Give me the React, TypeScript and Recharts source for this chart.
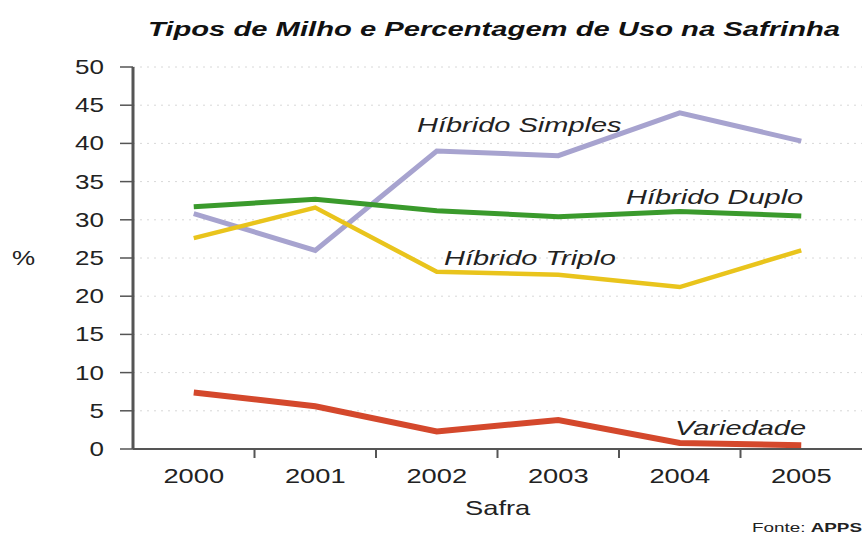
import React from 'react'
import { LineChart, Line, XAxis, YAxis, CartesianGrid } from 'recharts'

const years = [2000, 2001, 2002, 2003, 2004, 2005]
const hibridoSimples = [30.8, 26.0, 39.0, 38.4, 44.0, 40.3]
const hibridoDuplo = [31.7, 32.7, 31.2, 30.4, 31.1, 30.5]
const hibridoTriplo = [27.6, 31.6, 23.2, 22.8, 21.2, 26.0]
const variedade = [7.4, 5.6, 2.3, 3.8, 0.8, 0.5]
const yTicks = [0, 5, 10, 15, 20, 25, 30, 35, 40, 45, 50]
const bandEdges = [2000.5, 2001.5, 2002.5, 2003.5, 2004.5]

const data = years.map((year, i) => ({
  year,
  simples: hibridoSimples[i],
  duplo: hibridoDuplo[i],
  triplo: hibridoTriplo[i],
  variedade: variedade[i],
}))

const FONT = '"Liberation Sans", Arial, sans-serif'
const STRETCH = 1.3

function XTick({ x, y, payload }: any) {
  const v = payload.value
  if (!Number.isInteger(v)) {
    // tick marks sit between the years
    return <line x1={x} x2={x} y1={y - 16} y2={y - 7} stroke="#555" strokeWidth={2} />
  }
  return (
    <g transform={`translate(${x},${y}) scale(${STRETCH},1)`}>
      <text x={0} y={0} dy={18} textAnchor="middle" fontSize={21} fill="#222" fontFamily={FONT}>{v}</text>
    </g>
  )
}

function YTick({ x, y, payload }: any) {
  return (
    <g transform={`translate(${x},${y}) scale(${STRETCH},1)`}>
      <text x={0} y={0} dy={7} textAnchor="end" fontSize={20} fill="#222" fontFamily={FONT}>{payload.value}</text>
    </g>
  )
}

const labelStyle: React.CSSProperties = {
  position: 'absolute',
  whiteSpace: 'nowrap',
  fontFamily: FONT,
  fontStyle: 'italic',
  fontSize: 21,
  color: '#222',
  transformOrigin: 'left center',
  transform: 'scaleX(1.38)',
  lineHeight: '24px',
}

export default function App() {
  return (
    <div style={{ position: 'absolute', left: 0, top: 0, width: 867, height: 539, background: '#fff', overflow: 'hidden' }}>
      <div style={{ ...labelStyle, left: 148, top: 17, fontWeight: 'bold', fontSize: 21, color: '#111', transform: 'scaleX(1.39)' }}>
        Tipos de Milho e Percentagem de Uso na Safrinha
      </div>
      <LineChart width={867} height={539} data={data} margin={{ top: 67, right: 5, bottom: 50, left: 0 }}>
        <CartesianGrid vertical={false} stroke="#d8d8d8" strokeDasharray="2 5" />
        <XAxis
          dataKey="year"
          type="number"
          domain={[1999.5, 2005.5]}
          ticks={[...years, ...bandEdges]}
          interval={0}
          tickLine={false}
          tickSize={10}
          tickMargin={6}
          tick={<XTick />}
          axisLine={{ stroke: '#555', strokeWidth: 2 }}
          height={40}
        />
        <XAxis xAxisId="top" orientation="top" dataKey="year" type="number" domain={[1999.5, 2005.5]}
          tick={false} tickLine={false} height={0} axisLine={{ stroke: '#555', strokeWidth: 1.5 }} />
        <YAxis
          domain={[0, 50]}
          ticks={yTicks}
          interval={0}
          width={133}
          tickSize={13}
          tickMargin={16}
          tick={<YTick />}
          tickLine={{ stroke: '#555', strokeWidth: 1.5 }}
          axisLine={{ stroke: '#555', strokeWidth: 3 }}
        />
        <YAxis yAxisId="right" orientation="right" domain={[0, 50]} width={0} tick={false} tickLine={false}
          axisLine={{ stroke: '#888', strokeWidth: 2 }} />
        <Line dataKey="simples" stroke="#a7a3cf" strokeWidth={5} dot={false} isAnimationActive={false} strokeLinejoin="miter" />
        <Line dataKey="duplo" stroke="#3a9a2c" strokeWidth={5} dot={false} isAnimationActive={false} strokeLinejoin="miter" />
        <Line dataKey="triplo" stroke="#e9c41c" strokeWidth={4.5} dot={false} isAnimationActive={false} strokeLinejoin="miter" />
        <Line dataKey="variedade" stroke="#d4482c" strokeWidth={6} dot={false} isAnimationActive={false} strokeLinejoin="miter" />
      </LineChart>
      <div style={{ ...labelStyle, left: 417, top: 113 }}>Híbrido Simples</div>
      <div style={{ ...labelStyle, left: 626, top: 185 }}>Híbrido Duplo</div>
      <div style={{ ...labelStyle, left: 444, top: 246 }}>Híbrido Triplo</div>
      <div style={{ ...labelStyle, left: 675, top: 416 }}>Variedade</div>
      <div style={{ ...labelStyle, fontStyle: 'normal', left: 12, top: 246, fontSize: 20, transform: 'scaleX(1.3)' }}>%</div>
      <div style={{ ...labelStyle, fontStyle: 'normal', left: 465, top: 496, fontSize: 21, transform: 'scaleX(1.3)' }}>Safra</div>
      <div style={{ ...labelStyle, fontStyle: 'normal', left: 752, top: 520, fontSize: 13, lineHeight: '16px', transform: 'scaleX(1.45)' }}>
        Fonte: <b>APPS</b>
      </div>
    </div>
  )
}
